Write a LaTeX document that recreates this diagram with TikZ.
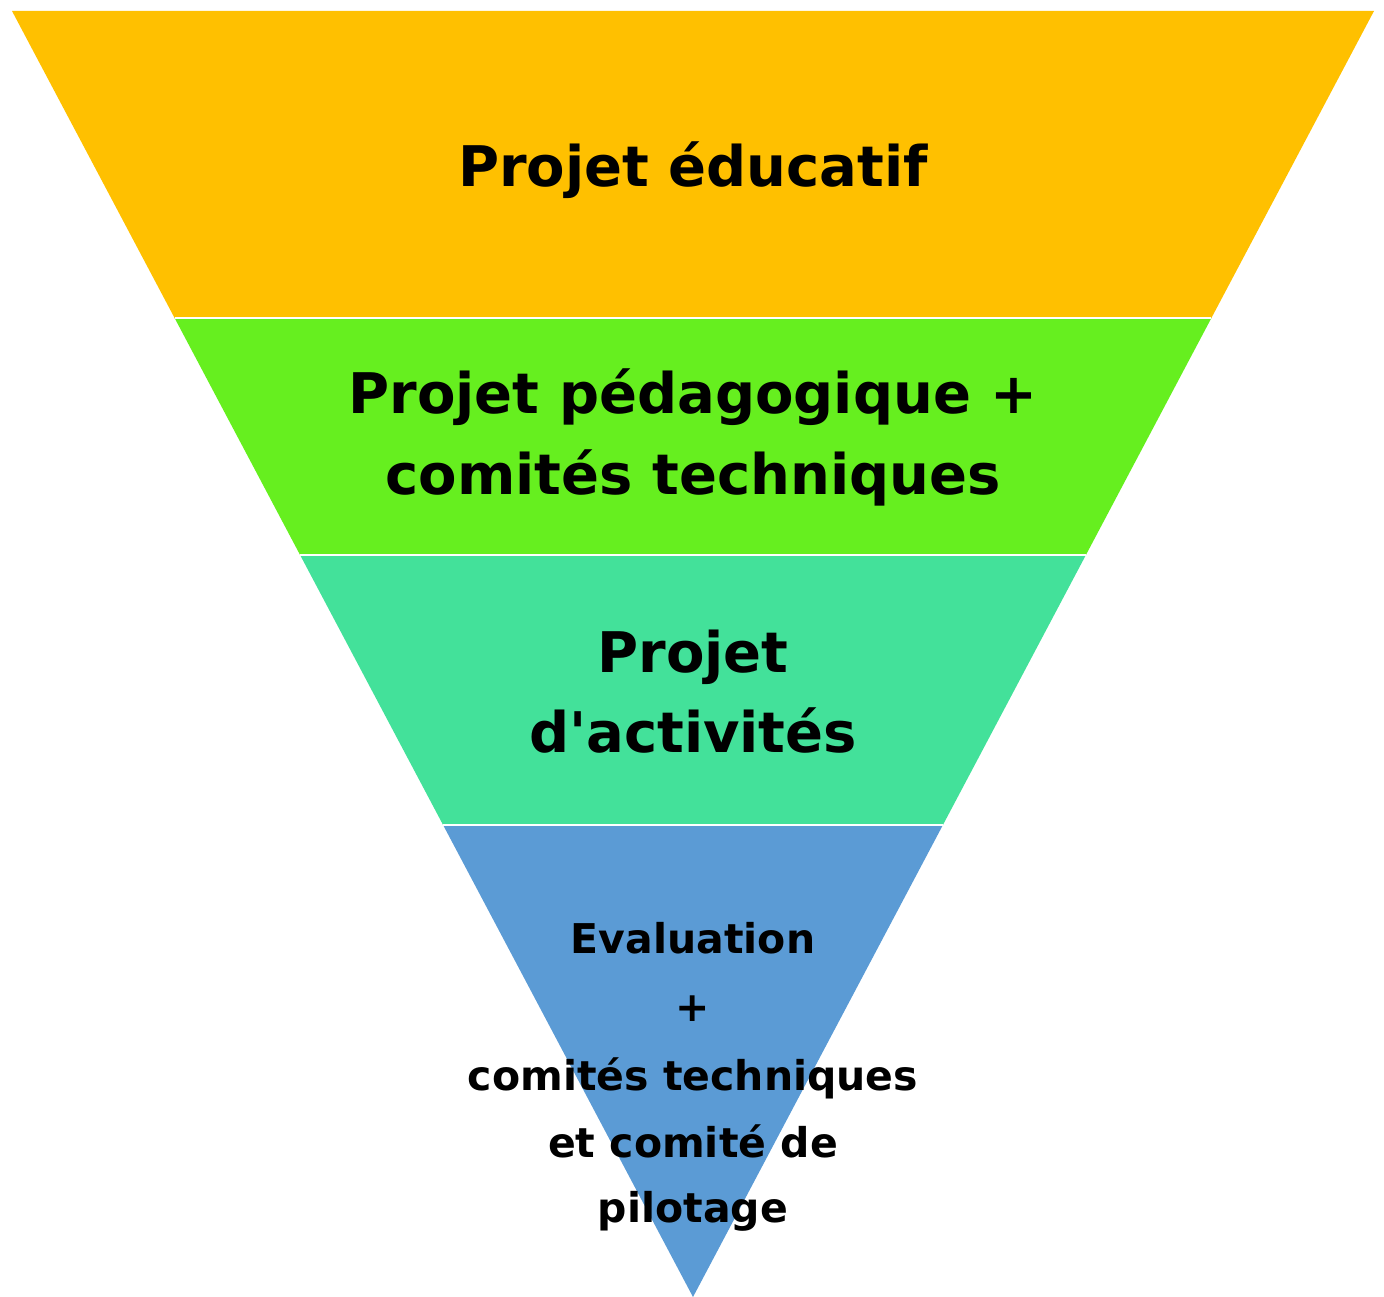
\documentclass[tikz,border=0pt]{standalone}
\usepackage{fontspec}
\setmainfont{DejaVu Sans}[Ligatures=TeXOff]
\usetikzlibrary{calc}
\definecolor{bandA}{HTML}{FFC000}
\definecolor{bandB}{HTML}{66EF1F}
\definecolor{bandC}{HTML}{43E19A}
\definecolor{bandD}{HTML}{5B9BD5}
\tikzset{
  band/.style={draw=white, line width=2pt, line join=miter},
  bigtxt/.style={anchor=base, inner sep=0pt, font=\bfseries\fontsize{56}{64}\selectfont},
  smalltxt/.style={anchor=base, inner sep=0pt, font=\bfseries\fontsize{41}{48}\selectfont},
}
\begin{document}
\begin{tikzpicture}[x=1pt,y=-1pt]
\useasboundingbox (0,0) rectangle (1384,1297);
\coordinate (TL) at (12,11);
\coordinate (TR) at (1374,11);
\coordinate (AP) at (693,1297);
\coordinate (L1) at (174.6,318);  \coordinate (R1) at (1211.4,318);
\coordinate (L2) at (300.1,555);  \coordinate (R2) at (1085.9,555);
\coordinate (L3) at (443.1,825);  \coordinate (R3) at (942.9,825);
\fill[bandA] (TL) -- (TR) -- (R1) -- (L1) -- cycle;
\fill[bandB] (L1) -- (R1) -- (R2) -- (L2) -- cycle;
\fill[bandC] (L2) -- (R2) -- (R3) -- (L3) -- cycle;
\fill[bandD] (L3) -- (R3) -- (AP) -- cycle;
\draw[band] (L1) -- (R1);
\draw[band] (L2) -- (R2);
\draw[band] (L3) -- (R3);
\node[bigtxt] (t1) at (693,187) {Projet éducatif};
\node[bigtxt] (t2a) at (693,413) {Projet pédagogique +};
\node[bigtxt] (t2b) at (693,494) {comités techniques};
\node[bigtxt] (t3a) at (693,672) {Projet};
\node[bigtxt] (t3b) at (693,752) {d'activités};
\node[smalltxt] (t4a) at (693,953) {Evaluation};
\node[smalltxt] (t4b) at (693,1021) {+};
\node[smalltxt] (t4c) at (693,1090) {comités techniques};
\node[smalltxt] (t4d) at (693,1157) {et comité de};
\node[smalltxt] (t4e) at (693,1222) {pilotage};
\end{tikzpicture}
\end{document}
